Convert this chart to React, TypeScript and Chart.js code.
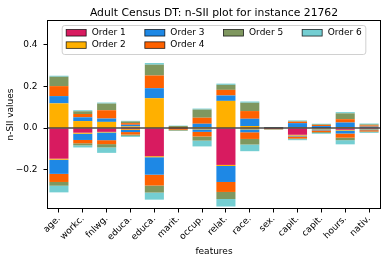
import React, { useEffect, useRef } from 'react';
import { Chart, registerables } from 'chart.js';

Chart.register(...registerables);

const titleText = 'Adult Census DT: n-SII plot for instance 21762';
const xAxisLabel = 'features';
const yAxisLabel = 'n-SII values';

const features = ['age.', 'workc.', 'fnlwg.', 'educa.', 'educa.', 'marit.', 'occup.', 'relat.', 'race.', 'sex.', 'capit.', 'capit.', 'hours.', 'nativ.'];

const orderLabels = ['Order 1', 'Order 2', 'Order 3', 'Order 4', 'Order 5', 'Order 6'];
const orderColors = ['#D81B60', '#FFB000', '#1E88E5', '#FE6100', '#7F975F', '#74CED2'];

// positive contributions per order
const posOrder1 = [0, 0, 0, 0.003, 0, 0, 0, 0, 0, 0, 0.002, 0, 0.002, 0];
const posOrder2 = [0.119, 0.034, 0.03, 0.005, 0.144, 0.001, 0.005, 0.131, 0.01, 0, 0.002, 0.002, 0.003, 0.003];
const posOrder3 = [0.035, 0.018, 0.016, 0.008, 0.048, 0.001, 0.016, 0.026, 0.035, 0.001, 0.02, 0.008, 0.022, 0.004];
const posOrder4 = [0.048, 0.016, 0.04, 0.008, 0.061, 0.002, 0.029, 0.027, 0.037, 0.001, 0.007, 0.005, 0.016, 0.006];
const posOrder5 = [0.045, 0.013, 0.032, 0.008, 0.052, 0.006, 0.039, 0.024, 0.04, 0.002, 0.002, 0.003, 0.028, 0.005];
const posOrder6 = [0.005, 0.005, 0.005, 0.003, 0.008, 0.002, 0.005, 0.006, 0.006, 0.001, 0.004, 0.003, 0.006, 0.004];

// negative contributions per order
const negOrder1 = [-0.147, -0.022, -0.018, -0.005, -0.135, -0.001, -0.003, -0.177, -0.002, -0.001, -0.032, -0.003, -0.008, -0.004];
const negOrder2 = [-0.005, -0.005, -0.003, -0.004, -0.005, -0.002, -0.003, -0.005, -0.004, -0.001, -0.004, -0.003, -0.004, -0.002];
const negOrder3 = [-0.068, -0.03, -0.037, -0.01, -0.084, -0.001, -0.012, -0.077, -0.014, -0.001, -0.004, -0.005, -0.014, -0.004];
const negOrder4 = [-0.039, -0.016, -0.019, -0.012, -0.052, -0.004, -0.022, -0.048, -0.032, -0.002, -0.01, -0.008, -0.02, -0.006];
const negOrder5 = [-0.018, -0.01, -0.016, -0.006, -0.034, -0.004, -0.02, -0.034, -0.027, -0.002, -0.003, -0.004, -0.012, -0.003];
const negOrder6 = [-0.032, -0.01, -0.026, -0.005, -0.034, -0.001, -0.028, -0.036, -0.032, -0.001, -0.005, -0.004, -0.02, -0.004];

const yMin = -0.389;
const yMax = 0.52;
const yTickValues = [-0.2, 0.0, 0.2, 0.4];

const posSeries = [posOrder1, posOrder2, posOrder3, posOrder4, posOrder5, posOrder6];
const negSeries = [negOrder1, negOrder2, negOrder3, negOrder4, negOrder5, negOrder6];

const FONT = "'DejaVu Sans', sans-serif";

const decorPlugin = {
  id: 'decor',
  afterDatasetsDraw(chart: any) {
    const { ctx, chartArea } = chart;
    const { left, right, top, bottom } = chartArea;
    const y0 = chart.scales.y.getPixelForValue(0);
    ctx.save();
    ctx.strokeStyle = 'rgba(0,0,0,0.7)';
    ctx.lineWidth = 1.5;
    ctx.beginPath();
    ctx.moveTo(left, y0);
    ctx.lineTo(right, y0);
    ctx.stroke();
    ctx.strokeStyle = '#000';
    ctx.lineWidth = 1;
    ctx.strokeRect(Math.round(left) + 0.5, Math.round(top) + 0.5, Math.round(right - left) - 1, Math.round(bottom - top) - 1);
    ctx.restore();
  },
  afterDraw(chart: any) {
    const { ctx, chartArea } = chart;
    const { left, right, top } = chartArea;
    const cx = (left + right) / 2;
    ctx.save();
    // title
    ctx.font = `10.8px ${FONT}`;
    ctx.fillStyle = '#000';
    ctx.textAlign = 'center';
    ctx.textBaseline = 'alphabetic';
    ctx.fillText(titleText, cx, top - 4.5);

    // legend (matplotlib style, ncol = 4, column-major)
    ctx.font = `9px ${FONT}`;
    const ncol = 4;
    const n = orderLabels.length;
    const base = Math.floor(n / ncol);
    const extra = n % ncol;
    const cols: number[][] = [];
    let idx = 0;
    for (let c = 0; c < ncol; c++) {
      const cnt = base + (c < extra ? 1 : 0);
      const col: number[] = [];
      for (let k = 0; k < cnt; k++) col.push(idx++);
      cols.push(col);
    }
    const handleW = 20;
    const handleH = 6.5;
    const textPad = 5.5;
    const colSpace = 19;
    const borderPad = 3;
    const colWidths = cols.map((col) => handleW + textPad + Math.max(...col.map((i) => ctx.measureText(orderLabels[i]).width)));
    const innerW = colWidths.reduce((a, b) => a + b, 0) + colSpace * (ncol - 1);
    const boxW = innerW + borderPad * 2 + 2;
    const boxH = 29;
    const boxL = cx - boxW / 2;
    const boxT = top + 5.5;
    const r = 2.5;
    ctx.beginPath();
    ctx.moveTo(boxL + r, boxT);
    ctx.lineTo(boxL + boxW - r, boxT);
    ctx.arcTo(boxL + boxW, boxT, boxL + boxW, boxT + r, r);
    ctx.lineTo(boxL + boxW, boxT + boxH - r);
    ctx.arcTo(boxL + boxW, boxT + boxH, boxL + boxW - r, boxT + boxH, r);
    ctx.lineTo(boxL + r, boxT + boxH);
    ctx.arcTo(boxL, boxT + boxH, boxL, boxT + boxH - r, r);
    ctx.lineTo(boxL, boxT + r);
    ctx.arcTo(boxL, boxT, boxL + r, boxT, r);
    ctx.closePath();
    ctx.fillStyle = 'rgba(255,255,255,0.85)';
    ctx.fill();
    ctx.strokeStyle = '#d0d0d0';
    ctx.lineWidth = 1;
    ctx.stroke();

    const rowY = [boxT + 7.3, boxT + 19.6];
    let x = boxL + borderPad + 1;
    cols.forEach((col, c) => {
      col.forEach((i, row) => {
        const yc = rowY[row];
        ctx.fillStyle = orderColors[i];
        ctx.fillRect(x, yc - handleH / 2, handleW, handleH);
        ctx.strokeStyle = 'rgba(0,0,0,0.85)';
        ctx.lineWidth = 0.8;
        ctx.strokeRect(x, yc - handleH / 2, handleW, handleH);
        ctx.fillStyle = '#000';
        ctx.textAlign = 'left';
        ctx.textBaseline = 'middle';
        ctx.fillText(orderLabels[i], x + handleW + textPad, yc);
      });
      x += colWidths[c] + colSpace;
    });
    ctx.restore();
  },
};

export default function App() {
  const canvasRef = useRef<HTMLCanvasElement | null>(null);

  useEffect(() => {
    const canvas = canvasRef.current;
    if (!canvas) return;
    Chart.defaults.font.family = FONT;
    Chart.defaults.font.size = 9;
    Chart.defaults.color = '#000';

    const datasets: any[] = [];
    posSeries.forEach((vals, i) => {
      datasets.push({
        label: orderLabels[i] + ' +',
        data: vals,
        backgroundColor: orderColors[i],
        borderWidth: 0,
        stack: 's',
        barPercentage: 0.8,
        categoryPercentage: 1.0,
      });
    });
    negSeries.forEach((vals, i) => {
      datasets.push({
        label: orderLabels[i] + ' -',
        data: vals,
        backgroundColor: orderColors[i],
        borderWidth: 0,
        stack: 's',
        barPercentage: 0.8,
        categoryPercentage: 1.0,
      });
    });

    const chart = new Chart(canvas, {
      type: 'bar',
      data: { labels: features, datasets },
      options: {
        animation: false,
        responsive: false,
        devicePixelRatio: 1,
        layout: { padding: { top: 20, right: 6, left: 0, bottom: 0 } },
        plugins: {
          legend: { display: false },
          title: { display: false },
          tooltip: { enabled: false },
        },
        scales: {
          x: {
            stacked: true,
            offset: true,
            grid: { display: true, drawOnChartArea: false, drawTicks: true, tickLength: 3.5, color: '#000', offset: false },
            border: { display: false },
            ticks: { autoSkip: false, maxRotation: 45, minRotation: 45, padding: 1, color: '#000', font: { size: 9, family: FONT } },
            title: { display: true, text: xAxisLabel, color: '#000', font: { size: 9, family: FONT }, padding: { top: 0, bottom: 6 } },
            afterFit: (scale: any) => { scale.height = 54; },
          },
          y: {
            stacked: true,
            min: yMin,
            max: yMax,
            bounds: 'data',
            grid: { display: true, drawOnChartArea: false, drawTicks: true, tickLength: 3.5, color: '#000' },
            border: { display: false },
            afterBuildTicks: (scale: any) => {
              scale.ticks = yTickValues.map((v) => ({ value: v }));
            },
            ticks: {
              padding: 6,
              color: '#000',
              font: { size: 9, family: FONT },
              callback: (v: any) => {
                const num = Number(v);
                const s = Math.abs(num).toFixed(1);
                return num < -1e-9 ? '\u2212' + s : s;
              },
            },
            title: { display: true, text: yAxisLabel, color: '#000', font: { size: 9, family: FONT }, padding: { top: 5, bottom: 0 } },
            afterFit: (scale: any) => { scale.width = 47; },
          },
        },
      },
      plugins: [decorPlugin],
    } as any);

    return () => chart.destroy();
  }, []);

  return (
    <div style={{ position: 'fixed', left: 0, top: 0, width: 387, height: 263, background: '#fff' }}>
      <canvas ref={canvasRef} width={387} height={263} style={{ display: 'block', width: 387, height: 263 }} />
    </div>
  );
}
